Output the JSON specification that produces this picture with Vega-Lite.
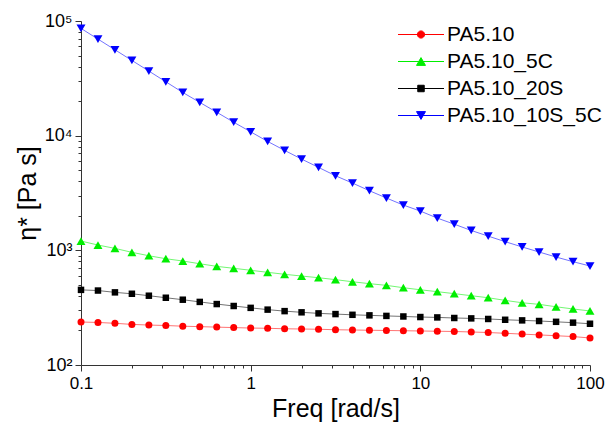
{
  "$schema": "https://vega.github.io/schema/vega-lite/v6.json",
  "width": 509,
  "height": 344,
  "autosize": {"type": "none"},
  "padding": {"left": 81, "top": 21, "right": 20, "bottom": 68},
  "background": "white",
  "config": {
    "view": {"stroke": null},
    "font": "Liberation Sans",
    "axis": {
      "grid": false,
      "domainColor": "#333333",
      "tickColor": "#333333",
      "labelColor": "#000000",
      "titleColor": "#000000",
      "labelFont": "Liberation Sans",
      "titleFont": "Liberation Sans",
      "titleFontWeight": "normal",
      "labelFontSize": 17,
      "titleFontSize": 25,
      "labelOverlap": false,
      "labelFlush": false
    },
    "legend": {
      "labelFont": "Liberation Sans",
      "labelFontSize": 21,
      "labelColor": "#000000",
      "symbolOpacity": 1,
      "symbolStrokeWidth": 1,
      "rowPadding": 5,
      "labelOffset": 15.5
    }
  },
  "datasets": {
    "visc": [
      {"freq": 0.1, "series": "PA5.10", "eta": 237}, {"freq": 0.1259, "series": "PA5.10", "eta": 235}, {"freq": 0.1585, "series": "PA5.10", "eta": 231}, {"freq": 0.1995, "series": "PA5.10", "eta": 226}, {"freq": 0.2512, "series": "PA5.10", "eta": 223}, {"freq": 0.3162, "series": "PA5.10", "eta": 221}, {"freq": 0.3981, "series": "PA5.10", "eta": 218}, {"freq": 0.5012, "series": "PA5.10", "eta": 216}, {"freq": 0.631, "series": "PA5.10", "eta": 214}, {"freq": 0.7943, "series": "PA5.10", "eta": 212}, {"freq": 1, "series": "PA5.10", "eta": 210}, {"freq": 1.259, "series": "PA5.10", "eta": 209}, {"freq": 1.585, "series": "PA5.10", "eta": 207}, {"freq": 1.995, "series": "PA5.10", "eta": 206}, {"freq": 2.512, "series": "PA5.10", "eta": 205}, {"freq": 3.162, "series": "PA5.10", "eta": 203}, {"freq": 3.981, "series": "PA5.10", "eta": 202}, {"freq": 5.012, "series": "PA5.10", "eta": 201}, {"freq": 6.31, "series": "PA5.10", "eta": 200}, {"freq": 7.943, "series": "PA5.10", "eta": 199}, {"freq": 10, "series": "PA5.10", "eta": 198}, {"freq": 12.59, "series": "PA5.10", "eta": 197}, {"freq": 15.85, "series": "PA5.10", "eta": 196}, {"freq": 19.95, "series": "PA5.10", "eta": 194}, {"freq": 25.12, "series": "PA5.10", "eta": 192}, {"freq": 31.62, "series": "PA5.10", "eta": 189}, {"freq": 39.81, "series": "PA5.10", "eta": 186}, {"freq": 50.12, "series": "PA5.10", "eta": 183}, {"freq": 63.1, "series": "PA5.10", "eta": 180}, {"freq": 79.43, "series": "PA5.10", "eta": 177}, {"freq": 100, "series": "PA5.10", "eta": 172},
      {"freq": 0.1, "series": "PA5.10_5C", "eta": 1205}, {"freq": 0.1259, "series": "PA5.10_5C", "eta": 1112}, {"freq": 0.1585, "series": "PA5.10_5C", "eta": 1040}, {"freq": 0.1995, "series": "PA5.10_5C", "eta": 961}, {"freq": 0.2512, "series": "PA5.10_5C", "eta": 897}, {"freq": 0.3162, "series": "PA5.10_5C", "eta": 845}, {"freq": 0.3981, "series": "PA5.10_5C", "eta": 807}, {"freq": 0.5012, "series": "PA5.10_5C", "eta": 764}, {"freq": 0.631, "series": "PA5.10_5C", "eta": 725}, {"freq": 0.7943, "series": "PA5.10_5C", "eta": 697}, {"freq": 1, "series": "PA5.10_5C", "eta": 670}, {"freq": 1.259, "series": "PA5.10_5C", "eta": 643}, {"freq": 1.585, "series": "PA5.10_5C", "eta": 618}, {"freq": 1.995, "series": "PA5.10_5C", "eta": 597}, {"freq": 2.512, "series": "PA5.10_5C", "eta": 577}, {"freq": 3.162, "series": "PA5.10_5C", "eta": 555}, {"freq": 3.981, "series": "PA5.10_5C", "eta": 532}, {"freq": 5.012, "series": "PA5.10_5C", "eta": 512}, {"freq": 6.31, "series": "PA5.10_5C", "eta": 495}, {"freq": 7.943, "series": "PA5.10_5C", "eta": 472}, {"freq": 10, "series": "PA5.10_5C", "eta": 453}, {"freq": 12.59, "series": "PA5.10_5C", "eta": 436}, {"freq": 15.85, "series": "PA5.10_5C", "eta": 419}, {"freq": 19.95, "series": "PA5.10_5C", "eta": 402}, {"freq": 25.12, "series": "PA5.10_5C", "eta": 386}, {"freq": 31.62, "series": "PA5.10_5C", "eta": 366}, {"freq": 39.81, "series": "PA5.10_5C", "eta": 349}, {"freq": 50.12, "series": "PA5.10_5C", "eta": 338}, {"freq": 63.1, "series": "PA5.10_5C", "eta": 322}, {"freq": 79.43, "series": "PA5.10_5C", "eta": 308}, {"freq": 100, "series": "PA5.10_5C", "eta": 296},
      {"freq": 0.1, "series": "PA5.10_20S", "eta": 452}, {"freq": 0.1259, "series": "PA5.10_20S", "eta": 446}, {"freq": 0.1585, "series": "PA5.10_20S", "eta": 430}, {"freq": 0.1995, "series": "PA5.10_20S", "eta": 418}, {"freq": 0.2512, "series": "PA5.10_20S", "eta": 402}, {"freq": 0.3162, "series": "PA5.10_20S", "eta": 386}, {"freq": 0.3981, "series": "PA5.10_20S", "eta": 371}, {"freq": 0.5012, "series": "PA5.10_20S", "eta": 355}, {"freq": 0.631, "series": "PA5.10_20S", "eta": 340}, {"freq": 0.7943, "series": "PA5.10_20S", "eta": 327}, {"freq": 1, "series": "PA5.10_20S", "eta": 315}, {"freq": 1.259, "series": "PA5.10_20S", "eta": 304}, {"freq": 1.585, "series": "PA5.10_20S", "eta": 295}, {"freq": 1.995, "series": "PA5.10_20S", "eta": 288}, {"freq": 2.512, "series": "PA5.10_20S", "eta": 282}, {"freq": 3.162, "series": "PA5.10_20S", "eta": 278}, {"freq": 3.981, "series": "PA5.10_20S", "eta": 274}, {"freq": 5.012, "series": "PA5.10_20S", "eta": 271}, {"freq": 6.31, "series": "PA5.10_20S", "eta": 268}, {"freq": 7.943, "series": "PA5.10_20S", "eta": 265}, {"freq": 10, "series": "PA5.10_20S", "eta": 262}, {"freq": 12.59, "series": "PA5.10_20S", "eta": 260}, {"freq": 15.85, "series": "PA5.10_20S", "eta": 257}, {"freq": 19.95, "series": "PA5.10_20S", "eta": 255}, {"freq": 25.12, "series": "PA5.10_20S", "eta": 252}, {"freq": 31.62, "series": "PA5.10_20S", "eta": 248}, {"freq": 39.81, "series": "PA5.10_20S", "eta": 245}, {"freq": 50.12, "series": "PA5.10_20S", "eta": 242}, {"freq": 63.1, "series": "PA5.10_20S", "eta": 238}, {"freq": 79.43, "series": "PA5.10_20S", "eta": 234}, {"freq": 100, "series": "PA5.10_20S", "eta": 229},
      {"freq": 0.1, "series": "PA5.10_10S_5C", "eta": 86200}, {"freq": 0.1259, "series": "PA5.10_10S_5C", "eta": 69500}, {"freq": 0.1585, "series": "PA5.10_10S_5C", "eta": 56100}, {"freq": 0.1995, "series": "PA5.10_10S_5C", "eta": 45300}, {"freq": 0.2512, "series": "PA5.10_10S_5C", "eta": 36600}, {"freq": 0.3162, "series": "PA5.10_10S_5C", "eta": 29500}, {"freq": 0.3981, "series": "PA5.10_10S_5C", "eta": 23800}, {"freq": 0.5012, "series": "PA5.10_10S_5C", "eta": 19500}, {"freq": 0.631, "series": "PA5.10_10S_5C", "eta": 16000}, {"freq": 0.7943, "series": "PA5.10_10S_5C", "eta": 13100}, {"freq": 1, "series": "PA5.10_10S_5C", "eta": 10800}, {"freq": 1.259, "series": "PA5.10_10S_5C", "eta": 8910}, {"freq": 1.585, "series": "PA5.10_10S_5C", "eta": 7440}, {"freq": 1.995, "series": "PA5.10_10S_5C", "eta": 6250}, {"freq": 2.512, "series": "PA5.10_10S_5C", "eta": 5290}, {"freq": 3.162, "series": "PA5.10_10S_5C", "eta": 4470}, {"freq": 3.981, "series": "PA5.10_10S_5C", "eta": 3860}, {"freq": 5.012, "series": "PA5.10_10S_5C", "eta": 3310}, {"freq": 6.31, "series": "PA5.10_10S_5C", "eta": 2860}, {"freq": 7.943, "series": "PA5.10_10S_5C", "eta": 2480}, {"freq": 10, "series": "PA5.10_10S_5C", "eta": 2200}, {"freq": 12.59, "series": "PA5.10_10S_5C", "eta": 1910}, {"freq": 15.85, "series": "PA5.10_10S_5C", "eta": 1690}, {"freq": 19.95, "series": "PA5.10_10S_5C", "eta": 1490}, {"freq": 25.12, "series": "PA5.10_10S_5C", "eta": 1330}, {"freq": 31.62, "series": "PA5.10_10S_5C", "eta": 1190}, {"freq": 39.81, "series": "PA5.10_10S_5C", "eta": 1070}, {"freq": 50.12, "series": "PA5.10_10S_5C", "eta": 967}, {"freq": 63.1, "series": "PA5.10_10S_5C", "eta": 874}, {"freq": 79.43, "series": "PA5.10_10S_5C", "eta": 796}, {"freq": 100, "series": "PA5.10_10S_5C", "eta": 730}
    ]
  },
  "data": {"name": "visc"},
  "encoding": {
    "x": {
      "field": "freq",
      "type": "quantitative",
      "scale": {"type": "log", "domain": [0.1, 100], "nice": false},
      "axis": {
        "title": "Freq [rad/s]",
        "values": [0.1, 0.2, 0.3, 0.4, 0.5, 0.6, 0.7, 0.8, 0.9, 1, 2, 3, 4, 5, 6, 7, 8, 9, 10, 20, 30, 40, 50, 60, 70, 80, 90, 100],
        "labelExpr": "datum.value == 0.1 ? '0.1' : datum.value == 1 ? '1' : datum.value == 10 ? '10' : datum.value == 100 ? '100' : ''",
        "tickSize": {"condition": {"test": "datum.value == 0.1 || datum.value == 1 || datum.value == 10 || datum.value == 100", "value": 6}, "value": 3},
        "labelPadding": 4,
        "titlePadding": 5
      }
    },
    "y": {
      "field": "eta",
      "type": "quantitative",
      "scale": {"type": "log", "domain": [100, 100000], "nice": false},
      "axis": {
        "title": "η* [Pa s]",
        "values": [100, 200, 300, 400, 500, 600, 700, 800, 900, 1000, 2000, 3000, 4000, 5000, 6000, 7000, 8000, 9000, 10000, 20000, 30000, 40000, 50000, 60000, 70000, 80000, 90000, 100000],
        "labelExpr": "datum.value == 100 ? '10²' : datum.value == 1000 ? '10³' : datum.value == 10000 ? '10⁴' : datum.value == 100000 ? '10⁵' : ''",
        "tickSize": {"condition": {"test": "datum.value == 100 || datum.value == 1000 || datum.value == 10000 || datum.value == 100000", "value": 6}, "value": 3},
        "labelFontSize": 18,
        "labelPadding": 3,
        "titlePadding": 4
      }
    },
    "color": {
      "field": "series",
      "type": "nominal",
      "scale": {"domain": ["PA5.10", "PA5.10_5C", "PA5.10_20S", "PA5.10_10S_5C"], "range": ["#FF0000", "#00EE00", "#000000", "#0000FF"]},
      "legend": {"orient": "none", "legendX": 329.5, "legendY": 3, "title": null, "labelOffset": 15.5, "rowPadding": 5, "symbolSize": 64, "symbolOpacity": 1, "symbolStrokeWidth": 1, "labelFontSize": 21}
    }
  },
  "layer": [
    {
      "mark": {"type": "line", "strokeWidth": 1, "opacity": 0.55}
    },
    {
      "transform": [{"filter": "datum.series == 'PA5.10'"}],
      "mark": {"type": "point", "shape": "circle", "filled": true, "size": 49, "opacity": 1}
    },
    {
      "transform": [{"filter": "datum.series == 'PA5.10_5C'"}],
      "mark": {"type": "point", "shape": "triangle-up", "filled": true, "size": 80, "opacity": 1}
    },
    {
      "transform": [{"filter": "datum.series == 'PA5.10_20S'"}],
      "mark": {"type": "point", "shape": "square", "filled": true, "size": 42, "opacity": 1}
    },
    {
      "transform": [{"filter": "datum.series == 'PA5.10_10S_5C'"}],
      "mark": {"type": "point", "shape": "triangle-down", "filled": true, "size": 80, "opacity": 1}
    },
    {
      "transform": [{"filter": "datum.eta < 0"}],
      "mark": {"type": "point", "filled": true, "size": 64},
      "encoding": {
        "shape": {
          "field": "series",
          "type": "nominal",
          "scale": {
            "domain": ["PA5.10", "PA5.10_5C", "PA5.10_20S", "PA5.10_10S_5C"],
            "range": [
              "M-5.75,0H5.75M-0.9,0C-0.9,-0.497,-0.497,-0.9,0,-0.9C0.497,-0.9,0.9,-0.497,0.9,0C0.9,0.497,0.497,0.9,0,0.9C-0.497,0.9,-0.9,0.497,-0.9,0Z",
              "M-5.75,0H5.75M0,-0.97L1.12,0.97L-1.12,0.97Z",
              "M-5.75,0H5.75M-0.81,-0.81H0.81V0.81H-0.81Z",
              "M-5.75,0H5.75M0,0.97L1.12,-0.97L-1.12,-0.97Z"
            ]
          },
          "legend": {"orient": "none", "legendX": 329.5, "legendY": 3, "title": null, "labelOffset": 15.5, "rowPadding": 5, "symbolSize": 64, "symbolOpacity": 1, "symbolStrokeWidth": 1, "labelFontSize": 21}
        }
      }
    }
  ]
}
